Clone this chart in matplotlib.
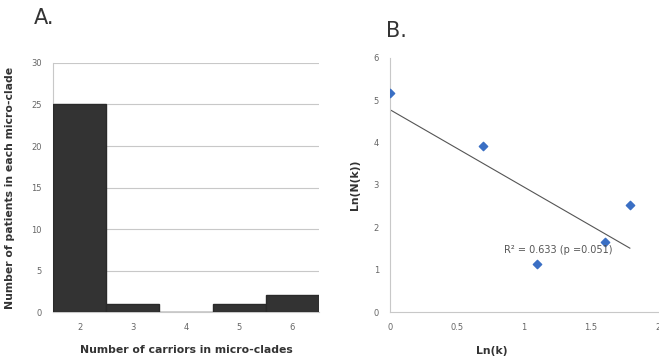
import numpy as np
import matplotlib.pyplot as plt

# panel A: histogram of micro-clade sizes
carriers = [2, 3, 4, 5, 6]
patients = [25, 1, 0, 1, 2]

# panel B: log-log points
ln_k = [0.0, 0.693, 1.099, 1.609, 1.792]
ln_nk = [5.18, 3.92, 1.13, 1.65, 2.53]
r2_text = "R² = 0.633 (p =0.051)"

fig = plt.figure(figsize=(6.59, 3.62), dpi=100)
grid_c = "#c8c8c8"
tick_c = "#666666"

# ---- A ----
axA = fig.add_axes([0.0804, 0.138, 0.4036, 0.688])
axA.bar(carriers, patients, width=1.0, color="#333333", edgecolor="#2a2a2a", zorder=3)
axA.set_xlim(1.5, 6.5)
axA.set_ylim(0, 30)
axA.set_yticks(range(0, 31, 5))
axA.set_xticks(carriers)
axA.yaxis.grid(True, color=grid_c, lw=0.8)
axA.set_axisbelow(True)
for s in ["top", "right"]:
    axA.spines[s].set_visible(False)
axA.spines["left"].set_color(grid_c)
axA.spines["bottom"].set_color(grid_c)
axA.tick_params(length=0, labelsize=6, colors=tick_c, pad=8)
axA.set_xlabel("Number of carriors in micro-clades", fontsize=7.8, fontweight="bold",
               color="#333333", labelpad=9)
axA.set_ylabel("Number of patients in each micro-clade", fontsize=7.8, fontweight="bold",
               color="#333333", labelpad=12)
fig.text(0.051, 0.95, "A.", fontsize=15, color="#333333", va="center")

# ---- B ----
axB = fig.add_axes([0.592, 0.138, 0.406, 0.702])
axB.scatter(ln_k, ln_nk, marker="D", s=18, color="#3a6fc4", zorder=3)
slope, icpt = np.polyfit(ln_k, ln_nk, 1)
xs = np.array([min(ln_k), max(ln_k)])
axB.plot(xs, slope * xs + icpt, color="#555555", lw=0.8)
axB.set_xlim(0, 2)
axB.set_ylim(0, 6)
axB.set_xticks([0, 0.5, 1, 1.5, 2])
axB.set_xticklabels(["0", "0.5", "1", "1.5", "2"])
axB.set_yticks(range(0, 7))
for s in ["top", "right"]:
    axB.spines[s].set_visible(False)
axB.spines["left"].set_color(grid_c)
axB.spines["bottom"].set_color(grid_c)
axB.tick_params(length=0, labelsize=6, colors=tick_c, pad=8)
axB.set_xlabel("Ln(k)", fontsize=7.8, fontweight="bold", color="#333333")
axB.xaxis.set_label_coords(0.38, -0.135)
axB.set_ylabel("Ln(N(k))", fontsize=7.8, fontweight="bold", color="#333333", labelpad=10)
axB.text(1.26, 1.47, r2_text, fontsize=7, color="#555555", ha="center", va="center")
fig.text(0.585, 0.915, "B.", fontsize=15, color="#333333", va="center")

fig.savefig("out.png", dpi=100)
